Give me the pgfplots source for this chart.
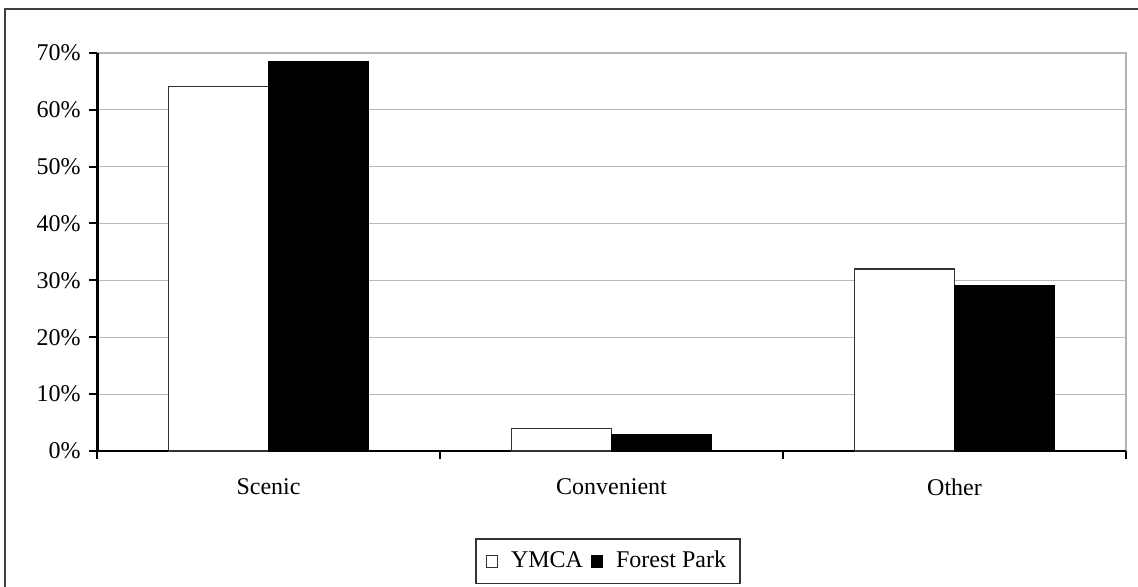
\documentclass[border=0pt]{standalone}
\usepackage{fontspec}
\setmainfont{Liberation Serif}
\usepackage{pgfplots}
\pgfplotsset{compat=1.18}
\begin{document}
\fontsize{12}{14}\selectfont
\begin{tikzpicture}
\path[use as bounding box] (0,0) rectangle (569pt,-293pt);
\begin{scope}
\clip (0,0) rectangle (569pt,-293pt);
\draw[black!75, line width=1pt] (2.5pt,-4.5pt) rectangle (620pt,-340pt);
\end{scope}
\begin{axis}[
 at={(48.5pt,-225.5pt)}, anchor=south west,
 scale only axis, width=514.5pt, height=199.15pt,
 ybar=0pt, bar width=50pt,
 xmin=-0.5, xmax=2.5, ymin=0, ymax=70,
 ytick={0,10,...,70},
 yticklabel={\pgfmathprintnumber{\tick}\%},
 /pgf/number format/assume math mode=true,
 xtick={-0.5,0.5,1.5,2.5}, xticklabels={},
 extra x ticks={0,1,2}, extra x tick labels={Scenic,Convenient,Other},
 extra x tick style={major tick length=0pt, xticklabel style={yshift=-9.5pt}},
 tick align=outside, major tick length=4pt,
 axis x line*=bottom, axis y line*=left,
 x axis line style={line width=1pt,-}, y axis line style={line width=1.5pt,-},
 tick style={black, line width=1pt},
 ymajorgrids, grid style={black!28, line width=0.6pt},
 axis background/.style={draw=black!30, line width=0.8pt},
 tick label style={font=\fontsize{12}{14}\selectfont},
 legend style={at={(0.4966,-0.2762)}, anchor=center, legend columns=-1,
   draw=black!80, line width=0.6pt, font=\fontsize{12}{14}\selectfont,
   inner xsep=5pt, inner ysep=4pt,
   /tikz/every odd column/.append style={column sep=4.5pt},
   /tikz/every even column/.append style={column sep=2pt}},
 legend image code/.code={\draw[#1, line width=0.5pt] (0pt,-0.25em) rectangle (5.5pt,0.21em);},
]
\addplot[fill=white, draw=black!80, line width=0.6pt] coordinates {(0,64.1) (1,3.9) (2,32.0)};
\addplot[fill=black, draw=black, line width=0.6pt] coordinates {(0,68.4) (1,2.8) (2,29.1)};
\legend{YMCA, Forest Park}
\end{axis}
\end{tikzpicture}
\end{document}
